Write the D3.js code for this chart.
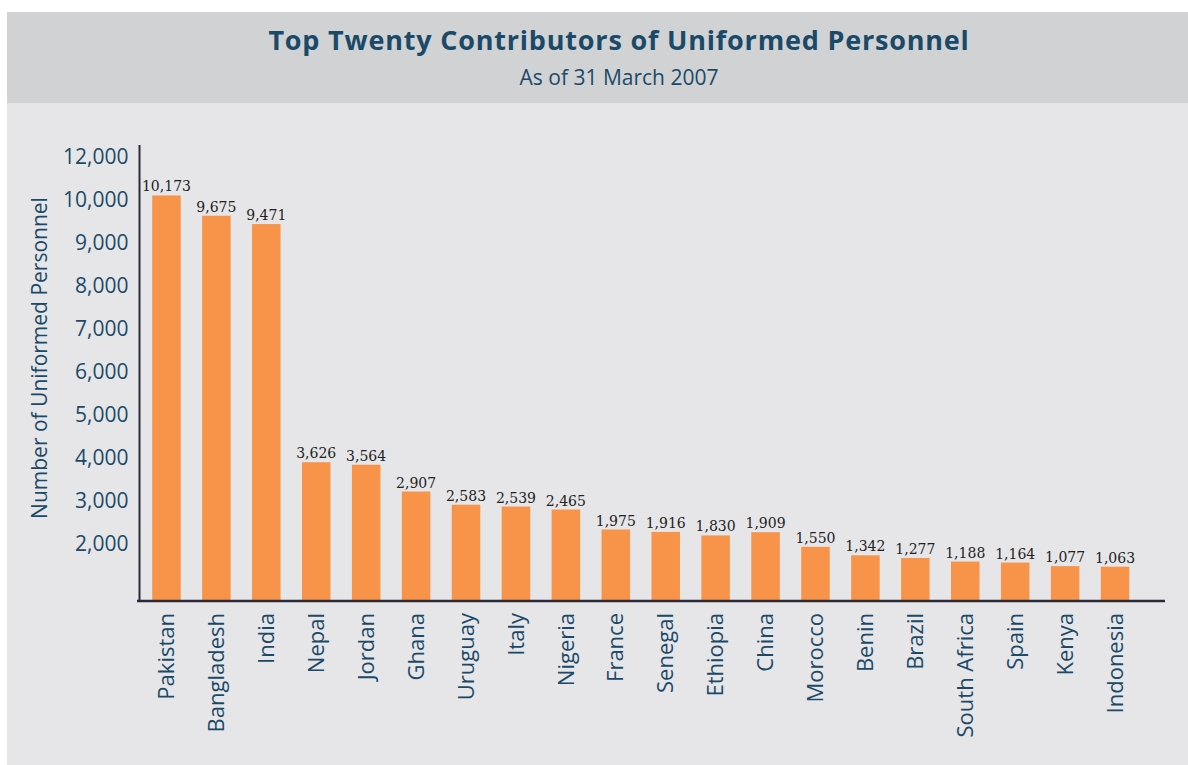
<!DOCTYPE html>
<html>
<head>
<meta charset="utf-8">
<script src="https://cdn.jsdelivr.net/npm/d3@7/dist/d3.min.js"></script>
<style>
  html, body { margin: 0; padding: 0; background: #ffffff; }
  svg { display: block; }
</style>
</head>
<body>
<script>
// ---- Data ----
const countries = ["Pakistan", "Bangladesh", "India", "Nepal", "Jordan", "Ghana", "Uruguay", "Italy",
  "Nigeria", "France", "Senegal", "Ethiopia", "China", "Morocco", "Benin", "Brazil",
  "South Africa", "Spain", "Kenya", "Indonesia"];
const personnel = [10173, 9675, 9471, 3626, 3564, 2907, 2583, 2539,
  2465, 1975, 1916, 1830, 1909, 1550, 1342, 1277,
  1188, 1164, 1077, 1063];
// tick labels as printed on the original axis (evenly spaced, 11,000 omitted)
const yTickLabels = ["2,000", "3,000", "4,000", "5,000", "6,000", "7,000", "8,000", "9,000", "10,000", "12,000"];
const titleText = "Top Twenty Contributors of Uniformed Personnel";
const subtitleText = "As of 31 March 2007";
const yTitle = "Number of Uniformed Personnel";

// ---- Layout ----
const W = 1188, H = 765;
const teal = "#1b4a68";
const orange = "#f7944a";
const baseY = 601;

const svg = d3.select("body").append("svg").attr("width", W).attr("height", H);

// backgrounds
svg.append("rect").attr("x", 7).attr("y", 103).attr("width", W - 7).attr("height", H - 103).attr("fill", "#e6e6e8");
svg.append("rect").attr("x", 7).attr("y", 12).attr("width", W - 7).attr("height", 91).attr("fill", "#d1d2d4");

// titles
svg.append("text").attr("x", 619).attr("y", 50).attr("text-anchor", "middle")
  .attr("font-family", "Open Sans").attr("font-weight", 700).attr("font-size", 27)
  .attr("letter-spacing", 0.8)
  .attr("fill", teal).text(titleText);
svg.append("text").attr("x", 619).attr("y", 85).attr("text-anchor", "middle")
  .attr("font-family", "Open Sans").attr("font-size", 21)
  .attr("fill", teal).text(subtitleText);

// ---- Scales ----
const x = d3.scaleBand().domain(countries).range([141.5, 1140]).paddingInner(0.429).paddingOuter(0.2145);
// bar scale (as drawn in the original)
const yBar = d3.scaleLinear().domain([0, 12000]).range([610, 121]);
// axis label placement in the original: evenly spaced printed labels
const yAxisScale = d3.scalePoint().domain(yTickLabels).range([544, 157]);

// y axis labels
const axisG = svg.append("g").attr("transform", "translate(139.5,0)")
  .call(d3.axisLeft(yAxisScale).tickSize(0).tickPadding(11));
axisG.select(".domain").remove();
axisG.selectAll("text").attr("font-family", "Open Sans").attr("font-size", 21).attr("fill", teal);

// y axis line
svg.append("line").attr("x1", 139.5).attr("x2", 139.5).attr("y1", 145).attr("y2", baseY + 1)
  .attr("stroke", "#2a2a38").attr("stroke-width", 2);

// y title
svg.append("text").attr("transform", "translate(40,358) rotate(-90)").attr("text-anchor", "middle")
  .attr("dy", "0.35em")
  .attr("font-family", "Open Sans").attr("font-size", 21).attr("fill", teal).text(yTitle);

// bars
svg.append("g").selectAll("rect").data(countries).join("rect")
  .attr("x", d => x(d))
  .attr("width", x.bandwidth())
  .attr("y", (d, i) => yBar(personnel[i]))
  .attr("height", (d, i) => baseY - yBar(personnel[i]))
  .attr("fill", orange);

// value labels
svg.append("g").selectAll("text").data(countries).join("text")
  .attr("x", d => x(d) + x.bandwidth() / 2)
  .attr("y", (d, i) => yBar(personnel[i]) - 4)
  .attr("text-anchor", "middle")
  .attr("font-family", "DejaVu Serif").attr("font-size", 14).attr("fill", "#222")
  .text((d, i) => d3.format(",")(personnel[i]));

// baseline
svg.append("line").attr("x1", 137).attr("x2", 1165).attr("y1", baseY).attr("y2", baseY)
  .attr("stroke", "#2a2a38").attr("stroke-width", 2.5);

// category labels
const xAxisG = svg.append("g").attr("transform", `translate(0,${baseY})`)
  .call(d3.axisBottom(x).tickSize(0).tickPadding(0));
xAxisG.select(".domain").remove();
xAxisG.selectAll("text")
  .attr("font-family", "Open Sans").attr("font-size", 22).attr("fill", teal)
  .attr("text-anchor", "end")
  .attr("transform", "translate(0,12) rotate(-90)")
  .attr("x", 0).attr("y", 0).attr("dy", "0.35em");
</script>
</body>
</html>
